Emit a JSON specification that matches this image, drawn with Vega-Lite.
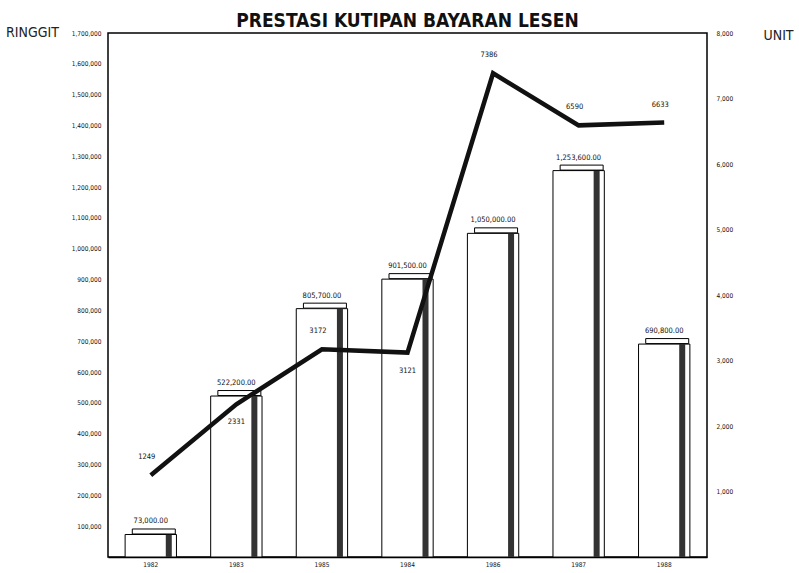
{
  "$schema": "https://vega.github.io/schema/vega-lite/v6.json",
  "width": 599,
  "height": 524,
  "autosize": {"type": "none"},
  "padding": {"left": 108, "top": 33, "right": 92, "bottom": 16},
  "background": "white",
  "config": {
    "font": "Liberation Sans Narrow, DejaVu Sans Condensed, sans-serif",
    "view": {"stroke": "black", "strokeWidth": 1.5},
    "axis": {"grid": false, "ticks": false, "labelColor": "#111", "labelFontSize": 6.5, "titleFontWeight": "normal", "domainColor": "black"}
  },
  "title": {
    "text": "PRESTASI KUTIPAN BAYARAN LESEN",
    "fontSize": 19,
    "fontWeight": "bold",
    "font": "Liberation Sans Narrow, DejaVu Sans Condensed, sans-serif",
    "anchor": "middle",
    "offset": -6,
    "color": "#111"
  },
  "data": {
    "values": [
      {"year": "1982", "ringgit": 73000, "unit": 1249},
      {"year": "1983", "ringgit": 522200, "unit": 2331},
      {"year": "1985", "ringgit": 805700, "unit": 3172},
      {"year": "1984", "ringgit": 901500, "unit": 3121},
      {"year": "1986", "ringgit": 1050000, "unit": 7386},
      {"year": "1987", "ringgit": 1253600, "unit": 6590},
      {"year": "1988", "ringgit": 690800, "unit": 6633}
    ]
  },
  "encoding": {
    "x": {
      "field": "year", "type": "nominal", "sort": null,
      "scale": {"paddingInner": 0.4, "paddingOuter": 0.2},
      "axis": {"title": null, "labelAngle": 0, "labelFontSize": 6.5, "labelPadding": 4, "domainWidth": 1.5}
    }
  },
  "layer": [
    {
      "encoding": {
        "y": {
          "field": "ringgit", "type": "quantitative",
          "scale": {"domain": [0, 1700000], "nice": false},
          "axis": {
            "orient": "left", "values": [100000,200000,300000,400000,500000,600000,700000,800000,900000,1000000,1100000,1200000,1300000,1400000,1500000,1600000,1700000],
            "format": ",.0f", "labelPadding": 7, "domain": false,
            "title": "RINGGIT", "titleAngle": 0, "titleX": -76, "titleY": -1,
            "titleAlign": "center", "titleBaseline": "middle", "titleFontSize": 14, "titleColor": "#222"
          }
        }
      },
      "layer": [
        {"mark": {"type": "bar", "color": "white", "stroke": "black", "strokeWidth": 1}},
        {"mark": {"type": "bar", "color": "#333", "width": 6, "xOffset": 18}},
        {"mark": {"type": "tick", "color": "white", "stroke": "black", "strokeWidth": 1, "thickness": 5, "size": 43, "xOffset": 3, "yOffset": -3, "opacity": 1}},
        {
          "mark": {"type": "text", "fontSize": 7.5, "dy": -13, "color": "#111"},
          "encoding": {"text": {"field": "ringgit", "type": "quantitative", "format": ",.2f"}}
        }
      ]
    },
    {
      "encoding": {
        "y": {
          "field": "unit", "type": "quantitative",
          "scale": {"domain": [0, 8000], "nice": false},
          "axis": {
            "orient": "right", "values": [1000,2000,3000,4000,5000,6000,7000,8000],
            "format": ",.0f", "labelPadding": 9, "domain": false,
            "title": "UNIT", "titleAngle": 0, "titleX": 71, "titleY": 2,
            "titleAlign": "center", "titleBaseline": "middle", "titleFontSize": 14, "titleColor": "#222"
          }
        }
      },
      "layer": [
        {"mark": {"type": "line", "color": "#111", "strokeWidth": 4.5}},
        {
          "transform": [{"filter": {"not": {"field": "year", "oneOf": ["1983", "1984"]}}}],
          "mark": {"type": "text", "fontSize": 7.5, "dy": -18, "dx": -4, "color": "#111"},
          "encoding": {"text": {"field": "unit", "type": "quantitative", "format": "d"}}
        },
        {
          "transform": [{"filter": {"field": "year", "oneOf": ["1983", "1984"]}}],
          "mark": {"type": "text", "fontSize": 7.5, "dy": 18, "color": "#111"},
          "encoding": {"text": {"field": "unit", "type": "quantitative", "format": "d"}}
        }
      ]
    }
  ],
  "resolve": {"scale": {"y": "independent"}}
}
